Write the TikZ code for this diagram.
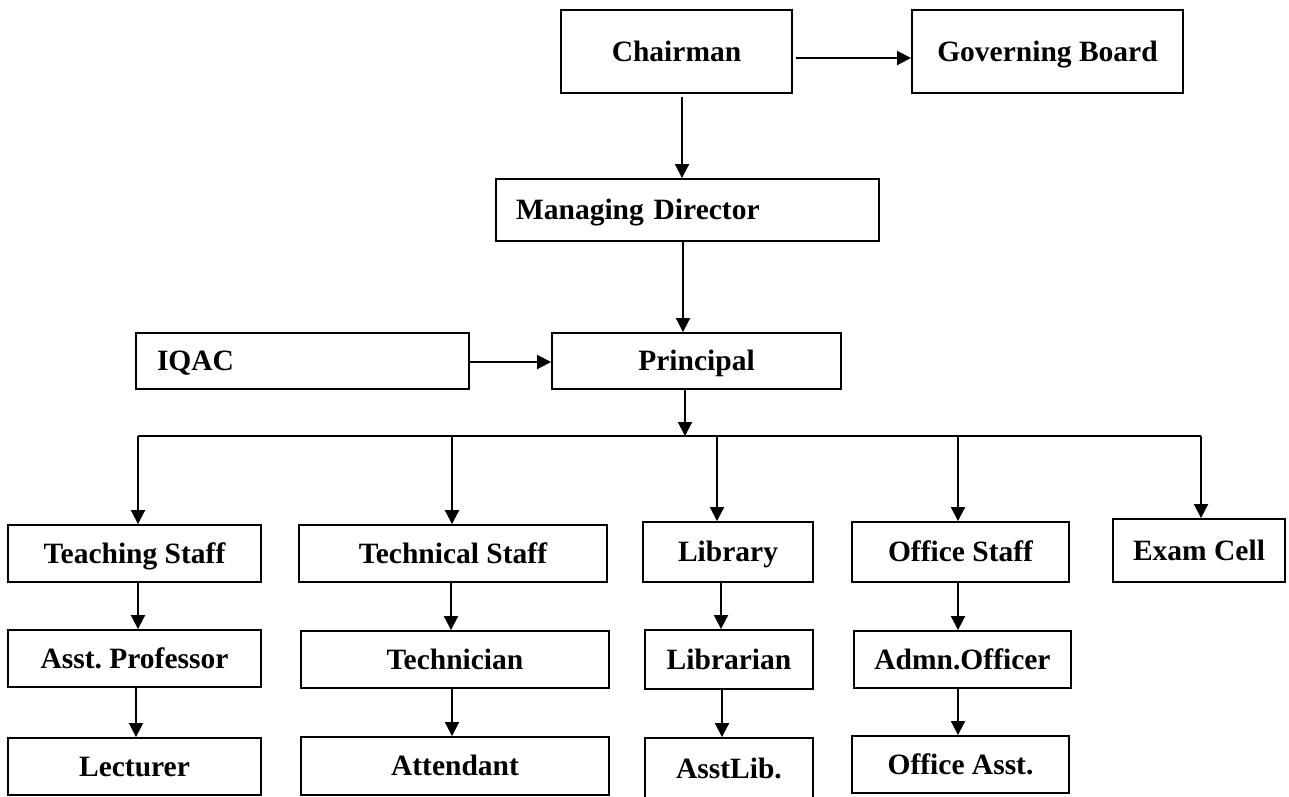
\documentclass[tikz,border=0pt]{standalone}
\usepackage{fontspec}
\setmainfont{Liberation Serif}
\usetikzlibrary{arrows.meta}
\frenchspacing
\begin{document}
\begin{tikzpicture}[x=1pt,y=-1pt,
  box/.style={draw, line width=1.9pt, inner sep=0pt, font=\bfseries\fontsize{29.5}{34}\selectfont, text height=23pt, text depth=4pt},
  arr/.style={line width=1.9pt, -{Triangle[length=14pt,width=14pt]}},
  bus/.style={line width=1.9pt}]
\useasboundingbox (0,0) rectangle (1289,796);
\clip (0,0) rectangle (1289,796);
% top
\node[box, minimum width=231pt, minimum height=83pt] (chair) at (676.5,51.5) {Chairman};
\node[box, minimum width=271pt, minimum height=83pt] (gb) at (1047.5,51.5) {Governing Board};
\node[box, text width=343pt, inner xsep=20pt, minimum height=62pt, align=left] (md) at (687.5,210) {Managing Director};
\node[box, text width=291pt, inner xsep=21pt, minimum height=56pt, align=left] (iqac) at (302.5,361) {IQAC};
\node[box, minimum width=289pt, minimum height=56pt] (prin) at (696.5,361) {Principal};
% columns
\node[box, minimum width=253pt, minimum height=57pt] (ts) at (134.5,553.5) {Teaching Staff};
\node[box, minimum width=253pt, minimum height=57pt] (ap) at (134.5,658.5) {Asst. Professor};
\node[box, minimum width=253pt, minimum height=57pt] (lec) at (134.5,766.5) {Lecturer};
\node[box, minimum width=308pt, minimum height=57pt] (tech) at (453,553.5) {Technical Staff};
\node[box, minimum width=308pt, minimum height=57pt] (techn) at (455,659.5) {Technician};
\node[box, minimum width=308pt, minimum height=58pt] (att) at (455,766) {Attendant};
\node[box, minimum width=170pt, minimum height=60pt] (lib) at (728,552) {Library};
\node[box, minimum width=168pt, minimum height=59pt] (libr) at (729,659.5) {Librarian};
\node[box, minimum width=168pt, minimum height=61pt] (asl) at (729,768.5) {AsstLib.};
\node[box, minimum width=217pt, minimum height=60pt] (os) at (960.5,552) {Office Staff};
\node[box, minimum width=217pt, minimum height=57pt] (adm) at (962.5,659.5) {Admn.Officer};
\node[box, minimum width=217pt, minimum height=57pt] (oa) at (960.5,764.5) {Office Asst.};
\node[box, minimum width=172pt, minimum height=63pt] (exam) at (1199,550.5) {Exam Cell};
% bus coordinates
\coordinate (busL) at (138,436);
\coordinate (busR) at (1201,436);
\coordinate (bp) at (685,436);
\coordinate (d2) at (452,436);
\coordinate (d3) at (717,436);
\coordinate (d4) at (958,436);
% connectors top
\draw[arr, shorten <=3pt] ([yshift=-6.5pt]chair.east) -- ([yshift=-6.5pt]gb.west);
\draw[arr, shorten <=3pt] (chair.south -| 682,0) -- (md.north -| 682,0);
\draw[arr] (md.south -| 683,0) -- (prin.north -| 683,0);
\draw[arr] ([yshift=-1pt]iqac.east) -- ([yshift=-1pt]prin.west);
\draw[arr] (prin.south -| bp) -- (bp);
\draw[bus] (busL) -- (busR);
% drops
\draw[arr] (busL) -- (ts.north -| busL);
\draw[arr] (d2) -- (tech.north -| d2);
\draw[arr] (d3) -- (lib.north -| d3);
\draw[arr] (d4) -- (os.north -| d4);
\draw[arr] (busR) -- (exam.north -| busR);
% chains
\draw[arr] (ts.south -| 138,0) -- (ap.north -| 138,0);
\draw[arr] (ap.south -| 136,0) -- (lec.north -| 136,0);
\draw[arr] (tech.south -| 451,0) -- (techn.north -| 451,0);
\draw[arr] (techn.south -| 452,0) -- (att.north -| 452,0);
\draw[arr] (lib.south -| 721,0) -- (libr.north -| 721,0);
\draw[arr] (libr.south -| 722,0) -- (asl.north -| 722,0);
\draw[arr] (os.south -| 958,0) -- (adm.north -| 958,0);
\draw[arr] (adm.south -| 958,0) -- (oa.north -| 958,0);
\end{tikzpicture}
\end{document}
